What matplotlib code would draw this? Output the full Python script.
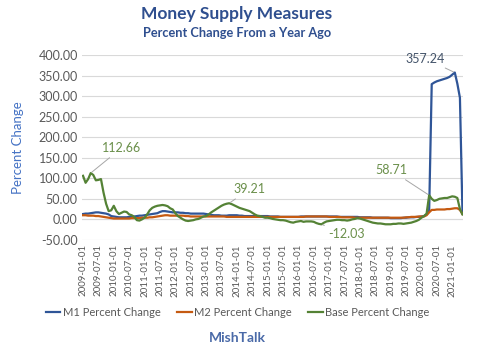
import numpy as np
import pandas as pd
import matplotlib
matplotlib.use("Agg")
import matplotlib.pyplot as plt

plt.rcParams['font.family'] = ['Lato', 'DejaVu Sans']

# monthly YoY % change, 2009-01 .. 2021-05
m1 = [13, 14, 14, 15, 16, 17, 17, 16, 15, 14, 12, 8,
      7, 6, 5, 5, 5, 5, 6, 6, 7, 8, 9, 9,
      10, 11, 12, 13, 14, 15, 18, 20, 20, 19, 18, 17,
      17, 17, 16, 16, 15, 15, 14, 14, 14, 14, 14, 14,
      13, 12, 11, 10, 10, 10, 9, 9, 9, 10, 10, 10,
      10, 9, 9, 8, 8, 8, 8, 8, 8, 8, 8, 8,
      8, 7, 7, 7, 7, 6, 6, 6, 6, 6, 6, 6,
      6, 7, 7, 7, 7, 7, 7, 7, 7, 7, 7, 7,
      7, 7, 7, 7, 6, 6, 6, 6, 6, 6, 6, 6,
      5, 5, 5, 5, 5, 4, 4, 4, 4, 4, 4, 4,
      3, 3, 3, 3, 3, 4, 4, 5, 5, 5, 6, 6,
      7, 8, 12, 20, 329, 333, 336, 338, 340, 342, 344, 347,
      352, 357.24, 330, 296, 14]

m2 = [10, 10, 9, 9, 9, 8, 8, 7, 6, 5, 4, 3,
      2, 2, 2, 2, 2, 2, 2, 3, 3, 3, 3, 4,
      4, 4, 5, 5, 6, 7, 8, 9, 10, 10, 9, 9,
      9, 9, 9, 9, 8, 8, 7, 7, 7, 7, 7, 7,
      7, 7, 7, 7, 7, 7, 7, 7, 6, 6, 6, 6,
      6, 6, 6, 6, 6, 6, 6, 6, 6, 6, 6, 6,
      6, 6, 6, 6, 6, 6, 6, 6, 6, 6, 6, 6,
      6, 6, 6, 7, 7, 7, 7, 7, 7, 7, 7, 7,
      6, 6, 6, 6, 6, 5, 5, 5, 5, 5, 4, 4,
      4, 4, 4, 4, 4, 4, 4, 4, 4, 4, 4, 4,
      4, 4, 4, 4, 4, 4, 5, 5, 6, 6, 6, 7,
      7, 7, 10, 17, 23, 23, 24, 24, 24, 24, 25, 25,
      26, 27, 27, 23, 13]

base = [106, 89, 98, 112.66, 108, 95, 96, 98, 65, 38, 20, 22,
        33, 20, 13, 16, 19, 18, 12, 10, 6, -2, -3, 0,
        4, 12, 22, 28, 31, 33, 34, 35, 34, 32, 27, 24,
        15, 8, 4, 0, -3, -4, -3, -2, 0, 1, 4, 7,
        8, 12, 17, 21, 25, 29, 33, 36, 38, 39.21, 37, 34,
        31, 28, 26, 24, 22, 20, 16, 12, 9, 8, 6, 4,
        4, 3, 1, 0, -1, -2, -2, -3, -5, -7, -8, -6,
        -5, -4, -6, -5, -5, -5, -6, -9, -11, -12.03, -8, -5,
        -4, -3, -2, -1, -1, -2, -2, -3, -2, 0, 1, 3,
        2, 0, -2, -4, -6, -8, -9, -10, -10, -11, -12, -12,
        -12, -11, -11, -10, -10, -11, -10, -9, -8, -6, -4, -1,
        4, 8, 14, 58.71, 50, 45, 47, 50, 51, 52, 52, 54,
        56, 55, 52, 25, 12]

dates = pd.date_range("2009-01-01", periods=len(base), freq="MS")
x = np.arange(len(base))

c_m1 = '#2f5597'
c_m2 = '#c55a11'
c_base = '#548235'
grey = '#595959'

fig = plt.figure(figsize=(5, 3.57), dpi=100)
ax = fig.add_axes([0.164, 0.328, 0.762, 0.518])

ax.plot(x, m1, color=c_m1, lw=1.6, label='M1 Percent Change')
ax.plot(x, m2, color=c_m2, lw=1.6, label='M2 Percent Change')
ax.plot(x, base, color=c_base, lw=1.6, label='Base Percent Change')

ax.set_ylim(-50, 400)
ax.set_xlim(-0.4, len(base) - 0.8)
ax.set_yticks(np.arange(-50, 401, 50))
ax.set_yticklabels(['%.2f' % v for v in np.arange(-50, 401, 50)], fontsize=9, color=grey)
ax.set_xticks(x[::6])
ax.set_xticklabels(dates[::6].strftime('%Y-%m-%d'), rotation=90, fontsize=7, color=grey)
ax.tick_params(length=0, pad=3)
ax.grid(axis='y', color='#d9d9d9', lw=0.8)
ax.set_axisbelow(True)
ax.axhline(0, color='#d0d8e8', lw=0.8, zorder=0)
for s in ax.spines.values():
    s.set_visible(False)

ax.set_ylabel('Percent Change', fontsize=9.5, color='#4472c4', va='center')
ax.yaxis.set_label_coords(-0.168, 0.5)

# data labels
lead = dict(arrowstyle='-', color='#a6a6a6', lw=0.7, shrinkA=1, shrinkB=1)
b = np.array(base)
i1 = int(np.argmax(b[:24]))
i2 = 48 + int(np.argmax(b[48:72]))
i3 = 84 + int(np.argmin(b[84:108]))
i4 = 130 + int(np.argmax(b[130:]))
i5 = int(np.argmax(m1))
lab_g = '#6a8f4a'
ax.annotate('%.2f' % b[i1], (i1, b[i1]), xytext=(8, 18), textcoords='offset points',
            ha='left', va='center', fontsize=9, color=lab_g, arrowprops=lead)
ax.annotate('%.2f' % b[i2], (i2, b[i2]), xytext=(3, 10), textcoords='offset points',
            ha='left', va='center', fontsize=9, color=lab_g, arrowprops=lead)
ax.annotate('%.2f' % b[i3], (i3, b[i3]), xytext=(5, -7), textcoords='offset points',
            ha='left', va='center', fontsize=9, color=lab_g, arrowprops=lead)
ax.annotate('%.2f' % b[i4], (i4, b[i4]), xytext=(-16, 18), textcoords='offset points',
            ha='right', va='center', fontsize=9, color=lab_g, arrowprops=lead)
ax.annotate('%.2f' % m1[i5], (i5, m1[i5]), xytext=(-7, 10), textcoords='offset points',
            ha='right', va='center', fontsize=9, color='#44546a', arrowprops=lead)

fig.text(0.474, 0.961, 'Money Supply Measures', ha='center', va='center',
         fontsize=12.5, fontweight='bold', color='#2f4f8f')
fig.text(0.474, 0.908, 'Percent Change From a Year Ago', ha='center', va='center',
         fontsize=9.2, fontweight='bold', color='#2f4f8f')

fig.legend(loc='center', bbox_to_anchor=(0.475, 0.125), ncol=3, frameon=False,
           fontsize=8, handlelength=1.3, handletextpad=0.2, columnspacing=1.5,
           labelcolor=grey)
fig.text(0.474, 0.053, 'MishTalk', ha='center', va='center', fontsize=10,
         fontweight='bold', color='#4a6aa8')

fig.savefig('out.png', dpi=100)
